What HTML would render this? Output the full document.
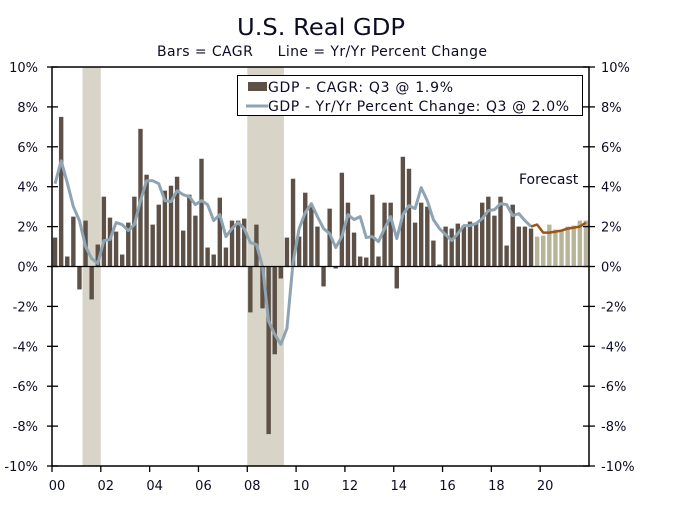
<!DOCTYPE html>
<html><head><meta charset="utf-8"><style>
body{margin:0;background:#fff;}
svg text{font-family:"DejaVu Sans","Liberation Sans",sans-serif;fill:#0c0c24;}
</style></head><body>
<svg id="chart" width="676" height="503" xmlns="http://www.w3.org/2000/svg">
<text x="321" y="35" font-size="23" text-anchor="middle" textLength="168" lengthAdjust="spacingAndGlyphs">U.S. Real GDP</text>
<text x="157" y="56" font-size="14" textLength="330" xml:space="preserve">Bars = CAGR     Line = Yr/Yr Percent Change</text>
<g id="shade"></g><g id="bars"></g><g id="lines"></g><g id="axes"></g>
<g>
<rect x="237.5" y="75.5" width="345" height="40" fill="#fff" stroke="#000" stroke-width="1"/>
<rect x="248" y="82" width="19" height="9" fill="#5c5047"/>
<text x="268" y="92" font-size="14" textLength="185">GDP - CAGR: Q3 @ 1.9%</text>
<line x1="246" y1="106" x2="268" y2="106" stroke="#8fa4b3" stroke-width="3"/>
<text x="268" y="111" font-size="14" textLength="301">GDP - Yr/Yr Percent Change: Q3 @ 2.0%</text>
</g>
<text x="519" y="184" font-size="14">Forecast</text>
</svg>
<script>
const cagr=[1.45,7.5,0.5,2.5, -1.15,2.3,-1.65,1.1, 3.5,2.45,1.75,0.6, 2.2,3.5,6.9,4.6, 2.1,3.1,3.8,4.05, 4.5,1.8,3.6,2.55, 5.4,0.95,0.6,3.45, 0.95,2.3,2.3,2.4,
 -2.3,2.1,-2.1,-8.4, -4.4,-0.6,1.45,4.4, 1.5,3.7,3.0,2.0, -1.0,2.9,-0.1,4.7, 3.2,1.7,0.5,0.45, 3.6,0.5,3.2,3.2, -1.1,5.5,4.9,2.2, 3.2,3.0,1.3,0.1,
 2.0,1.9,2.15,2.05, 2.25,2.15,3.2,3.5, 2.55,3.5,1.05,3.1, 2.0,2.0,1.9];
const cagrForecast=[1.5,1.55,2.1,1.85,1.85,2.0,2.05,2.3,2.3];
const yoy=[4.15,5.3,4.2,3.0, 2.3,1.0,0.4,0.15, 1.3,1.35,2.2,2.1, 1.8,2.1,3.3,4.3, 4.3,4.15,3.3,3.25, 3.8,3.6,3.5,3.1, 3.3,3.1,2.3,2.6, 1.5,1.9,2.2,1.9,
 1.2,1.1,0.0,-2.75, -3.4,-3.9,-3.1,0.2, 1.9,2.7,3.15,2.5, 1.9,1.65,0.95,1.5, 2.6,2.35,2.5,1.45, 1.5,1.25,1.9,2.5, 1.4,2.6,3.05,2.9, 3.95,3.3,2.35,1.9,
 1.6,1.3,1.65,2.05, 2.05,2.15,2.4,2.8, 2.85,3.15,3.1,2.55, 2.65,2.3,2.0];
const yoyForecast=[2.0,2.1,1.7,1.7,1.75,1.8,1.9,1.95,2.0,2.2];
const yTicks=[-10,-8,-6,-4,-2,0,2,4,6,8,10];
const xLabels=["00","02","04","06","08","10","12","14","16","18","20"];
const recessions=[[2001.25,2002.0],[2008.0,2009.5]];
const X0=52,X1=589,Q=(X1-X0)/88;
const xq=i=>X0+(i+0.5)*Q;
const xYear=y=>X0+(y-2000)*4*Q;
const yv=v=>266.5-v*19.95;
const NS="http://www.w3.org/2000/svg";
function mk(p,t,a){const e=document.createElementNS(NS,t);for(const k in a)e.setAttribute(k,a[k]);document.getElementById(p).appendChild(e);return e;}
recessions.forEach(r=>{const e=mk('shade','rect',{x:xYear(r[0]),y:yv(10),width:xYear(r[1])-xYear(r[0]),height:yv(-10)-yv(10),fill:'#d8d4c8'});

});
const bw=4.4;
cagr.forEach((v,i)=>{const e=mk('bars','rect',{x:xq(i)-bw/2,y:Math.min(yv(v),yv(0)),width:bw,height:Math.abs(yv(v)-yv(0)),fill:'#5c5047'});

});
cagrForecast.forEach((v,i)=>{const j=cagr.length+i;const e=mk('bars','rect',{x:xq(j)-bw/2,y:Math.min(yv(v),yv(0)),width:bw,height:Math.abs(yv(v)-yv(0)),fill:'#b8b498'});

});
let p=yoy.map((v,i)=>xq(i)+','+yv(v)).join(' ');
let l1=mk('lines','polyline',{points:p,fill:'none',stroke:'#8fa4b3','stroke-width':3,'stroke-linejoin':'round'});


let p2=yoyForecast.map((v,i)=>xq(cagr.length-1+i)+','+yv(v)).join(' ');
let l2=mk('lines','polyline',{points:p2,fill:'none',stroke:'#9c5419','stroke-width':2.5,'stroke-linejoin':'round'});


const z=mk('axes','line',{x1:X0,x2:X1,y1:yv(0),y2:yv(0),stroke:'#000','stroke-width':1.3});


const fr=mk('axes','rect',{x:X0,y:yv(10),width:X1-X0,height:yv(-10)-yv(10),fill:'none',stroke:'#000','stroke-width':1.5});


yTicks.forEach(v=>{const y=yv(v);
mk('axes','line',{x1:X0-5,x2:X0+6,y1:y,y2:y,stroke:'#000','stroke-width':1.3});
mk('axes','line',{x1:X1-6,x2:X1+6,y1:y,y2:y,stroke:'#000','stroke-width':1.3});
const t=mk('axes','text',{x:38,y:y+5,'font-size':13,'text-anchor':'end'});t.textContent=v+'%';


const t2=mk('axes','text',{x:601,y:y+5,'font-size':13});t2.textContent=v+'%';

});
xLabels.forEach((s,i)=>{const x=xYear(2000+2*i);
mk('axes','line',{x1:x,x2:x,y1:yv(-10),y2:yv(-10)+6,stroke:'#000','stroke-width':1.3});
const t=mk('axes','text',{x:x+5,y:490,'font-size':13,'text-anchor':'middle'});t.textContent=s;

});
</script>
</body></html>
